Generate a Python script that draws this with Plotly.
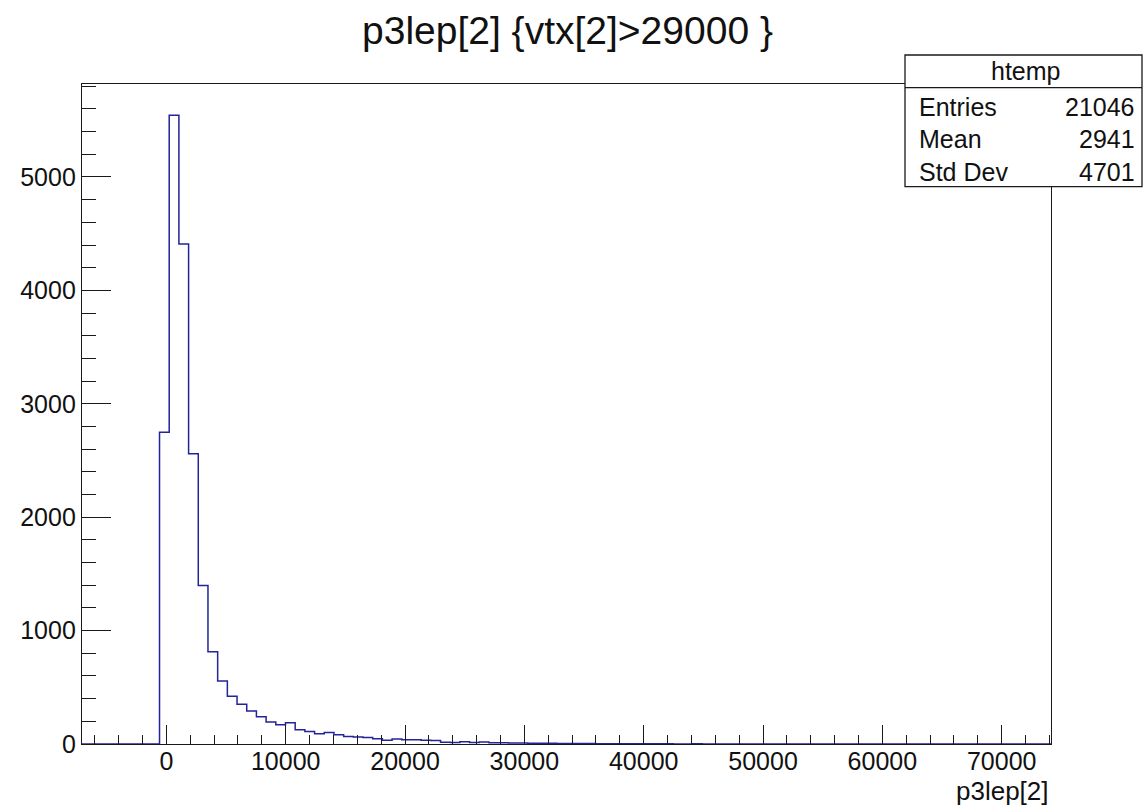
import numpy as np
import plotly.graph_objects as go

# ---------------- data ----------------
title_text = "p3lep[2] {vtx[2]>29000 }"
x_title = "p3lep[2]"
hist_name = "htemp"
x_min = -7070.0
x_max = 74130.0
y_max = 5820.0
counts = [
    0, 0, 0, 0, 0, 0, 0, 0, 2750, 5545,
    4410, 2560, 1397, 813, 555, 420, 350, 292, 240, 195,
    170, 188, 126, 111, 91, 102, 82, 67, 62, 58,
    47, 32, 44, 38, 38, 33, 30, 15, 14, 20,
    14, 18, 12, 10, 9, 8, 7, 6, 6, 5,
    5, 4, 4, 3, 3, 3, 2, 2, 2, 2,
    2, 1, 1, 2, 1, 1, 1, 0, 1, 1,
    1, 0, 1, 1, 0, 1, 0, 0, 1, 0,
    0, 0, 1, 0, 0, 1, 0, 0, 0, 0,
    1, 0, 0, 0, 0, 0, 0, 0, 0, 1,
]
stat_labels = ["Entries", "Mean", "Std Dev"]
stat_values = ["21046", "2941", "4701"]
x_ticks = [0, 10000, 20000, 30000, 40000, 50000, 60000, 70000]
y_ticks = [0, 1000, 2000, 3000, 4000, 5000]

# ---------------- layout geometry ----------------
W, H = 1143, 806
L, R, T, B = 82, 92, 84, 62
FONT = "Liberation Sans, Arial, Helvetica, sans-serif"
LINE_COL = "#1a1a1a"
HIST_COL = "#23239a"


def px_x(p):
    return (p - L) / (W - L - R)


def px_y(p):
    return (H - B - p) / (H - T - B)


n_bins = len(counts)
edges = np.linspace(x_min, x_max, n_bins + 1)
xs = list(edges)
ys = list(counts) + [counts[-1]]

fig = go.Figure()
fig.add_trace(go.Scatter(
    x=xs, y=ys, mode="lines", line=dict(shape="hv", color=HIST_COL, width=1.5),
    showlegend=False, hoverinfo="skip",
))

fig.update_layout(
    width=W, height=H, autosize=False,
    margin=dict(l=L, r=R, t=T, b=B, pad=0),
    paper_bgcolor="white", plot_bgcolor="white",
    font=dict(family=FONT, color="#111", size=25),
    showlegend=False,
)

fig.update_xaxes(
    range=[x_min, x_max], showgrid=False, zeroline=False,
    showline=True, linecolor=LINE_COL, linewidth=1.3, mirror=True,
    ticks="inside", ticklen=19, tickwidth=1.3, tickcolor=LINE_COL,
    tickvals=x_ticks, ticktext=[str(v) for v in x_ticks],
    tickfont=dict(size=25, family=FONT, color="#111"),
    ticklabelstandoff=-5,
    minor=dict(ticks="inside", ticklen=9, tickwidth=1.3, tickcolor=LINE_COL,
               dtick=2000, tick0=0, showgrid=False),
)
fig.update_yaxes(
    range=[0, y_max], showgrid=False, zeroline=False,
    showline=True, linecolor=LINE_COL, linewidth=1.3, mirror=True,
    ticks="inside", ticklen=29, tickwidth=1.3, tickcolor=LINE_COL,
    tickvals=y_ticks, ticktext=[str(v) for v in y_ticks],
    tickfont=dict(size=25, family=FONT, color="#111"),
    minor=dict(ticks="inside", ticklen=14, tickwidth=1.3, tickcolor=LINE_COL,
               dtick=200, tick0=0, showgrid=False),
)

# ---------------- stats box ----------------
bx0, bx1 = 905, 1142
by0, bsep, by1 = 55, 87.7, 186.7
fig.add_shape(type="rect", xref="paper", yref="paper",
              x0=px_x(bx0), x1=px_x(bx1), y0=px_y(by1), y1=px_y(by0),
              line=dict(color=LINE_COL, width=1.3), fillcolor="white", layer="above")
fig.add_shape(type="line", xref="paper", yref="paper",
              x0=px_x(bx0), x1=px_x(bx1), y0=px_y(bsep), y1=px_y(bsep),
              line=dict(color=LINE_COL, width=1.3), layer="above")

ann = []
ann.append(dict(text=hist_name, x=px_x(1025), y=px_y(71.5), xref="paper", yref="paper",
                xanchor="center", yanchor="middle", showarrow=False,
                font=dict(size=25, family=FONT, color="#111")))
row_y = [106.7, 139.0, 171.7]
for lab, val, ry in zip(stat_labels, stat_values, row_y):
    ann.append(dict(text=lab, x=px_x(917), y=px_y(ry), xref="paper", yref="paper",
                    xanchor="left", yanchor="middle", showarrow=False,
                    font=dict(size=25, family=FONT, color="#111")))
    ann.append(dict(text=val, x=px_x(1137), y=px_y(ry), xref="paper", yref="paper",
                    xanchor="right", yanchor="middle", showarrow=False,
                    font=dict(size=25, family=FONT, color="#111")))

# title
ann.append(dict(text=title_text, x=px_x(567), y=px_y(31), xref="paper", yref="paper",
                xanchor="center", yanchor="middle", showarrow=False,
                font=dict(size=39, family=FONT, color="#111")))
# x axis title
ann.append(dict(text=x_title, x=px_x(1051), y=px_y(791), xref="paper", yref="paper",
                xanchor="right", yanchor="middle", showarrow=False,
                font=dict(size=26, family=FONT, color="#111")))
fig.update_layout(annotations=ann)

fig.write_html(
    "out.html",
    config={"displayModeBar": False},
    post_script="document.body.style.margin='0';document.body.style.padding='0';"
                "document.documentElement.style.overflow='hidden';",
)
